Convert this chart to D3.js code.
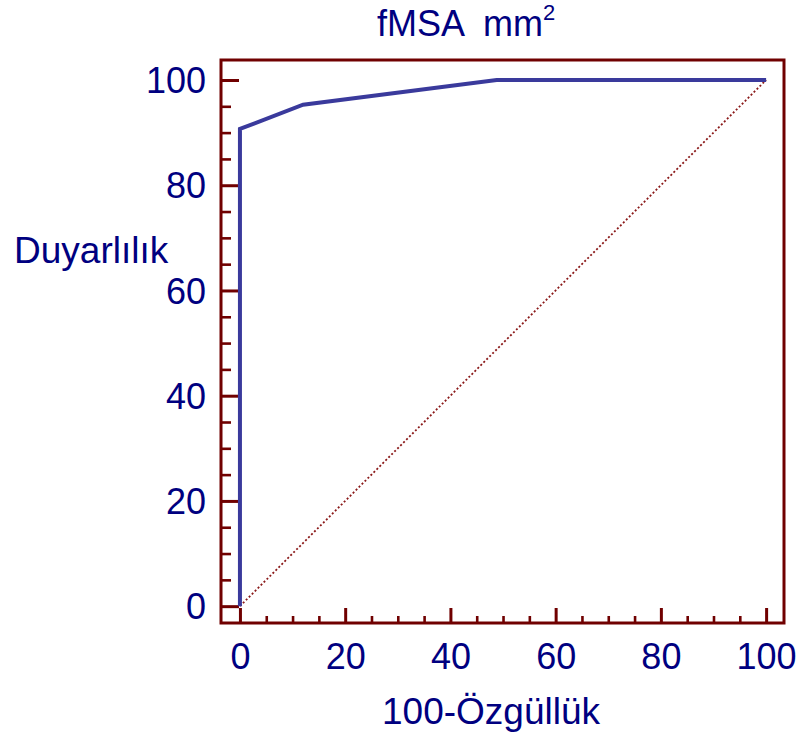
<!DOCTYPE html>
<html><head><meta charset="utf-8">
<script src="https://cdn.jsdelivr.net/npm/d3@7"></script>
<style>body{margin:0;background:#fff}svg{display:block}text{font-family:"Liberation Sans",Arial,sans-serif;fill:#000080}</style>
</head><body><svg id="c" width="805" height="742"></svg>
<script>
const rocX = [0, 0, 12.0, 48.8, 100];
const rocY = [0, 90.7, 95.3, 100, 100];
const xMajorTicks = [0, 20, 40, 60, 80, 100];
const yMajorTicks = [0, 20, 40, 60, 80, 100];
const minorTicks = [5,10,15,25,30,35,45,50,55,65,70,75,85,90,95];
const titleText = "fMSA  mm";
const titleSup = "2";
const xLabel = "100-Özgüllük";
const yLabel = "Duyarlılık";

const svg = d3.select("#c");
const axisCol = "#700000";
const x = d3.scaleLinear().domain([-3.6, 103.4]).range([221, 784]);
const y = d3.scaleLinear().domain([-3.2, 103.8]).range([623, 60]);

// frame
svg.append("rect").attr("x", x(-3.6)).attr("y", y(103.8))
  .attr("width", x(103.4)-x(-3.6)).attr("height", y(-3.2)-y(103.8))
  .attr("fill","none").attr("stroke",axisCol).attr("stroke-width",3);

// diagonal
svg.append("line").attr("x1",x(0)).attr("y1",y(0)).attr("x2",x(100)).attr("y2",y(100))
  .attr("stroke","#8b1a1a").attr("stroke-width",1.8).attr("stroke-dasharray","2,2.2");

// y axis
const yAx = svg.append("g").attr("transform",`translate(${x(-3.6)},0)`)
  .call(d3.axisLeft(y).tickValues(yMajorTicks).tickSize(-18).tickPadding(15).tickFormat(d3.format("d")));
yAx.select(".domain").remove();
yAx.selectAll(".tick line").attr("stroke",axisCol).attr("stroke-width",3);
yAx.selectAll(".tick text").attr("font-size",36).attr("fill","#000080").attr("dy","0.35em");
const yMin = svg.append("g").attr("transform",`translate(${x(-3.6)},0)`)
  .call(d3.axisLeft(y).tickValues(minorTicks).tickSize(-10).tickFormat(""));
yMin.select(".domain").remove();
yMin.selectAll(".tick line").attr("stroke",axisCol).attr("stroke-width",2.6);

// x axis
const xAx = svg.append("g").attr("transform",`translate(0,${y(-3.2)})`)
  .call(d3.axisBottom(x).tickValues(xMajorTicks).tickSize(-15).tickPadding(20).tickFormat(d3.format("d")));
xAx.select(".domain").remove();
xAx.selectAll(".tick line").attr("stroke",axisCol).attr("stroke-width",3);
xAx.selectAll(".tick text").attr("font-size",36).attr("fill","#000080");
const xMin = svg.append("g").attr("transform",`translate(0,${y(-3.2)})`)
  .call(d3.axisBottom(x).tickValues(minorTicks).tickSize(-7).tickFormat(""));
xMin.select(".domain").remove();
xMin.selectAll(".tick line").attr("stroke",axisCol).attr("stroke-width",2.6);

// ROC curve
const pts = rocX.map((v,i)=>[v, rocY[i]]);
svg.append("path").datum(pts)
  .attr("d", d3.line().x(d=>x(d[0])).y(d=>y(d[1])))
  .attr("fill","none").attr("stroke","#3a3a9c").attr("stroke-width",4).attr("stroke-linejoin","miter");

// titles
const t = svg.append("text").attr("x",377).attr("y",36).attr("font-size",36).attr("xml:space","preserve");
t.append("tspan").text(titleText);
t.append("tspan").attr("dy",-16).attr("font-size",22).text(titleSup);
svg.append("text").attr("x",491).attr("y",724).attr("text-anchor","middle").attr("font-size",37).text(xLabel);
svg.append("text").attr("x",14).attr("y",263).attr("font-size",37).text(yLabel);
</script></body></html>
